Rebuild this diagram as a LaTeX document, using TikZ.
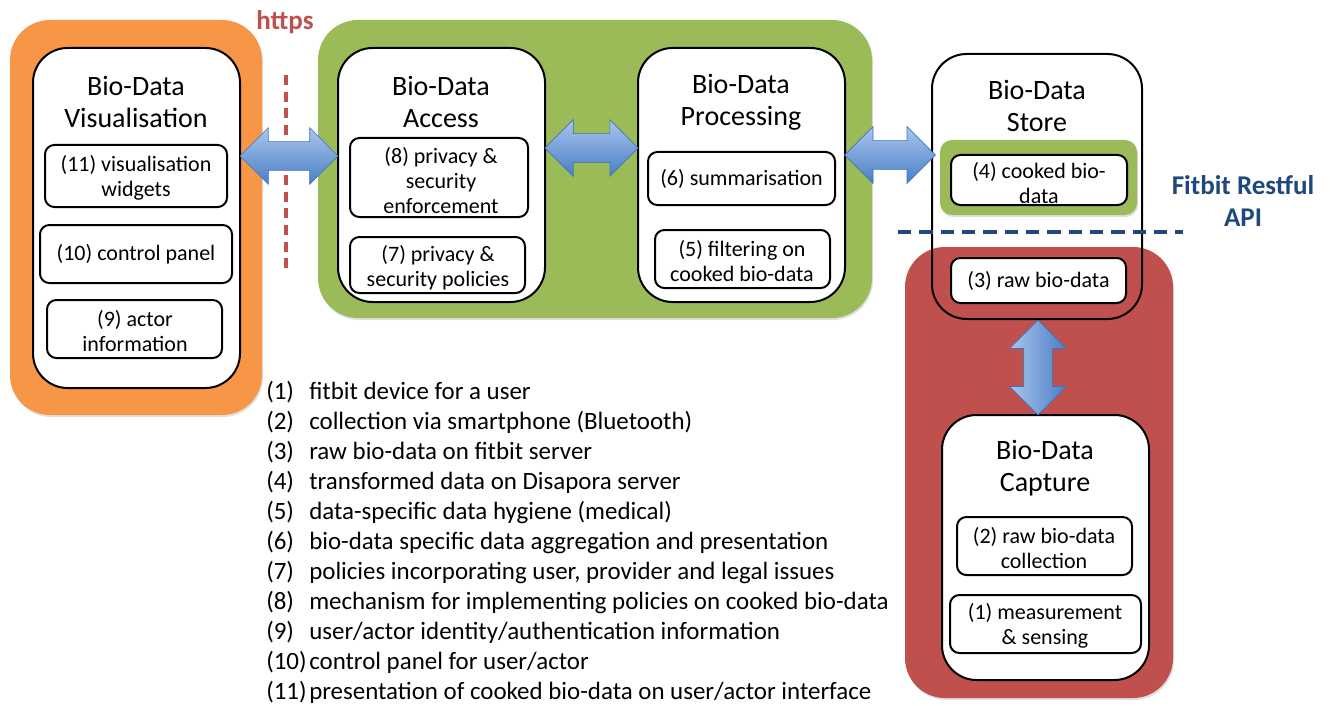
\documentclass[tikz,border=0pt]{standalone}
\usepackage{fontspec}
\setmainfont{Carlito}
\usetikzlibrary{fit,shapes.arrows,shadows,calc}
\definecolor{offorange}{HTML}{F79646}
\definecolor{offgreen}{HTML}{9BBB59}
\definecolor{offred}{HTML}{C0504D}
\definecolor{navy}{HTML}{1F497D}
\definecolor{arrowlight}{HTML}{A9C6EC}
\definecolor{arrowdark}{HTML}{4A7EC7}
\definecolor{arrowedge}{HTML}{3F72BA}
\begin{document}
\begin{tikzpicture}[x=0.75pt,y=-0.75pt,
  bg/.style={fill=#1, draw=none, inner sep=0pt, rounded corners=30pt,
    drop shadow={shadow xshift=0.8pt, shadow yshift=-1.5pt, opacity=0.25}},
  panel/.style={draw=black, line width=1.5pt, fill=white, inner sep=0pt, rounded corners=26pt},
  item/.style={draw=black, line width=1.5pt, fill=white, inner sep=0pt, rounded corners=7pt},
  itemtext/.style={font=\fontsize{16.5}{18.75}\selectfont, align=center, inner sep=0pt},
  ttl/.style={font=\fontsize{21}{24}\selectfont, align=center, inner sep=0pt},
  blabel/.style={font=\bfseries\fontsize{20.3}{24.5}\selectfont, align=center, inner sep=0pt},
  bigarrow/.style={double arrow, double arrow head extend=10.5pt, inner sep=0pt, inner ysep=10.5pt,
    minimum height=#1, draw=arrowedge, line width=0.5pt},
  leg/.style={font=\fontsize{18.7}{22}\selectfont, inner sep=0pt, anchor=base west}
]
\useasboundingbox (0,0) rectangle (1330,706);

% coloured backgrounds
\node[bg=offorange, fit={(10,20) (262,415)}] (orangebg) {};
\node[bg=offgreen, fit={(318,20) (872,318)}] (greenbg) {};
\node[bg=offred, fit={(905,247) (1173,698)}] (redbg) {};
\node[bg=offgreen, rounded corners=9pt, fit={(940,140) (1137,215)}] (storegreen) {};

% main panels
\node[panel, fit={(33,48) (240,388)}] (vis) {};
\node[panel, fit={(338,48) (545,302)}] (acc) {};
\node[panel, fit={(638,48) (845,302)}] (proc) {};
\node[panel, fit={(942,415) (1149,680)}] (cap) {};

% titles
\node[ttl] (visT) at (136,102) {Bio-Data\\Visualisation};
\node[ttl] (accT) at (441,102) {Bio-Data\\Access};
\node[ttl] (procT) at (741,102) {Bio-Data\\Processing};
\node[ttl] (storeT) at (1037,106) {Bio-Data\\Store};
\node[ttl] (capT) at (1045,468) {Bio-Data\\Capture};

% items
\node[item, fit={(45,145) (227,207)}] (i11) {};
\node[item, fit={(40,225) (232,283)}] (i10) {};
\node[item, fit={(47,300) (222,358)}] (i9) {};
\node[item, fit={(350,138) (528,217)}] (i8) {};
\node[item, fit={(350,237) (525,293)}] (i7) {};
\node[item, fit={(648,152) (835,205)}] (i6) {};
\node[item, fit={(655,230) (830,288)}] (i5) {};
\node[item, fit={(951,155) (1127,205)}] (i4) {};
\node[item, fit={(951,258) (1126,303)}] (i3) {};
\node[item, fit={(957,517) (1132,575)}] (i2) {};
\node[item, fit={(950,595) (1141,653)}] (i1) {};

\node[itemtext] (t11) at (136,178) {(11) visualisation\\widgets};
\node[itemtext] (t10) at (i10) {(10) control panel};
\node[itemtext] (t9) at (135,331) {(9) actor\\information};
\node[itemtext] (t8) at (441,181) {(8) privacy \&\\security\\enforcement};
\node[itemtext] (t7) at (438,268) {(7) privacy \&\\security policies};
\node[itemtext] (t6) at (i6) {(6) summarisation};
\node[itemtext] (t5) at (742,261) {(5) filtering on\\cooked bio-data};
\node[itemtext] (t4) at (1039,183) {(4) cooked bio-\\data};
\node[itemtext] (t3) at (i3) {(3) raw bio-data};
\node[itemtext] (t2) at (1044,548) {(2) raw bio-data\\collection};
\node[itemtext] (t1) at (1045,626) {(1) measurement\\\& sensing};

% store outline (transparent)
\node[draw=black, line width=1.5pt, inner sep=0pt, rounded corners=26pt, fit={(932,54) (1142,319)}] (store) {};

% https boundary
\node[blabel, text=offred] (https) at (285,22) {https};
\coordinate (h1) at (286,75);
\coordinate (h2) at (286,272);
\draw[offred, line width=2.3pt, dash pattern=on 7.5pt off 5pt] (h1) -- (h2);

% Fitbit API boundary
\node[blabel, text=navy] (api) at (1243,201) {Fitbit Restful\\API};
\coordinate (f1) at (898,232);
\coordinate (f2) at (1183,232);
\draw[navy, line width=2.8pt, dash pattern=on 10pt off 6pt] (f1) -- (f2);

% double arrows
\node[bigarrow=73.5pt, top color=arrowlight, bottom color=arrowdark] (a1) at (289,156) {};
\node[bigarrow=70pt, top color=arrowlight, bottom color=arrowdark] (a2) at (591.5,148) {};
\node[bigarrow=68pt, top color=arrowlight, bottom color=arrowdark] (a3) at (890,155) {};
\node[bigarrow=71pt, rotate=90, left color=arrowlight, right color=arrowdark] (a4) at (1038,367.5) {};

% legend
\foreach \i/\t in {1/{fitbit device for a user},
  2/{collection via smartphone (Bluetooth)},
  3/{raw bio-data on fitbit server},
  4/{transformed data on Disapora server},
  5/{data-specific data hygiene (medical)},
  6/{bio-data specific data aggregation and presentation},
  7/{policies incorporating user, provider and legal issues},
  8/{mechanism for implementing policies on cooked bio-data},
  9/{user/actor identity/authentication information},
  10/{control panel for user/actor},
  11/{presentation of cooked bio-data on user/actor interface}}{
  \node[leg] (ln\i) at (266,{399+30*(\i-1)}) {(\i)};
  \node[leg] (lt\i) at (309,{399+30*(\i-1)}) {\t};
}
\end{tikzpicture}
\end{document}
